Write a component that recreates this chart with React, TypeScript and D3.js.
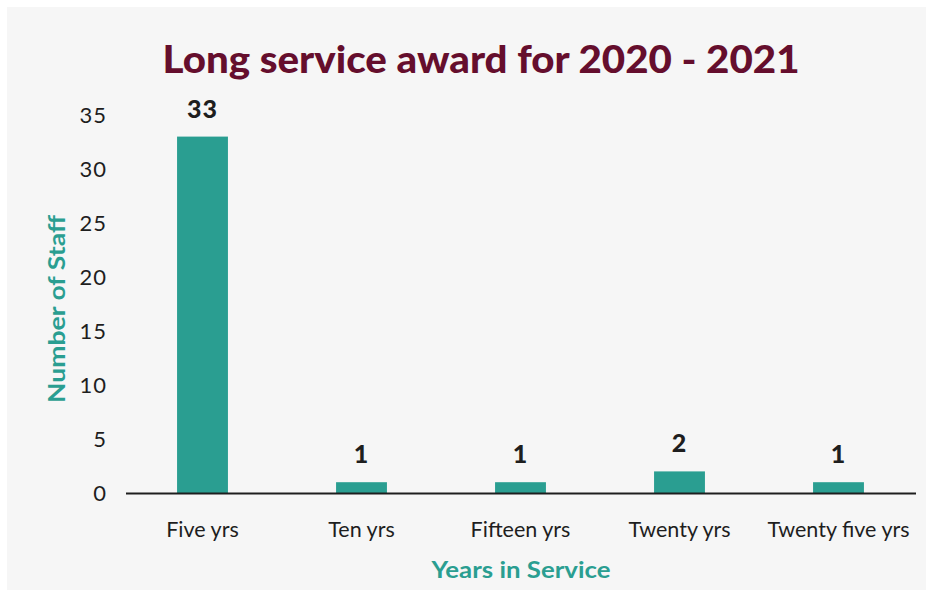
import React from "react";
import * as d3 from "d3";

const categories = ["Five yrs", "Ten yrs", "Fifteen yrs", "Twenty yrs", "Twenty five yrs"];
const staffCounts = [33, 1, 1, 2, 1];
const yTicks = [0, 5, 10, 15, 20, 25, 30, 35];
const titleText = "Long service award for 2020 - 2021";
const xTitle = "Years in Service";
const yTitle = "Number of Staff";

const W = 933;
const H = 593;
const TEAL = "#2a9e91";
const MAROON = "#650e2d";
const INK = "#1e1e1e";

export default function App() {
  const x = d3
    .scaleBand<string>()
    .domain(categories)
    .range([123, 918])
    .paddingInner(0.68)
    .paddingOuter(0.34);
  const y = d3.scaleLinear().domain([0, 35]).range([493, 115]);

  return (
    <svg
      width={W}
      height={H}
      style={{ position: "fixed", left: 0, top: 0, background: "#ffffff" }}
      fontFamily="Lato, 'Open Sans', sans-serif"
    >
      <rect x={7} y={7} width={919} height={583} fill="#f6f6f6" />
      <text
        x={481}
        y={73}
        textAnchor="middle"
        fontSize={38}
        fontWeight={900}
        fill={MAROON}
        textLength={637}
        lengthAdjust="spacingAndGlyphs"
      >
        {titleText}
      </text>

      {yTicks.map((t) => (
        <text
          key={t}
          x={107}
          y={y(t)}
          dy="0.35em"
          textAnchor="end"
          fontSize={22}
          fill={INK}
          letterSpacing={1}
        >
          {t}
        </text>
      ))}

      {categories.map((c, i) => {
        const v = staffCounts[i];
        const bx = x(c)!;
        const bw = x.bandwidth();
        return (
          <g key={c}>
            <rect x={bx} y={y(v)} width={bw} height={y(0) - y(v)} fill={TEAL} />
            <text
              x={bx + bw / 2}
              y={y(v) - 19}
              textAnchor="middle"
              fontSize={25}
              fontWeight={900}
              fill={INK}
              letterSpacing={1}
            >
              {v}
            </text>
            <text
              x={bx + bw / 2}
              y={529}
              dy="0.35em"
              textAnchor="middle"
              fontSize={21.5}
              fill={INK}
            >
              {c}
            </text>
          </g>
        );
      })}

      <line x1={126} x2={916} y1={y(0) + 0.5} y2={y(0) + 0.5} stroke={INK} strokeWidth={2.2} />

      <text
        x={521}
        y={570}
        dy="0.35em"
        textAnchor="middle"
        fontSize={23}
        fontWeight={700}
        fill={TEAL}
        textLength={179}
        lengthAdjust="spacingAndGlyphs"
      >
        {xTitle}
      </text>
      <text
        transform={`translate(57,309) rotate(-90)`}
        dy="0.35em"
        textAnchor="middle"
        fontSize={22}
        fontWeight={700}
        fill={TEAL}
        textLength={188}
        lengthAdjust="spacingAndGlyphs"
      >
        {yTitle}
      </text>
    </svg>
  );
}
